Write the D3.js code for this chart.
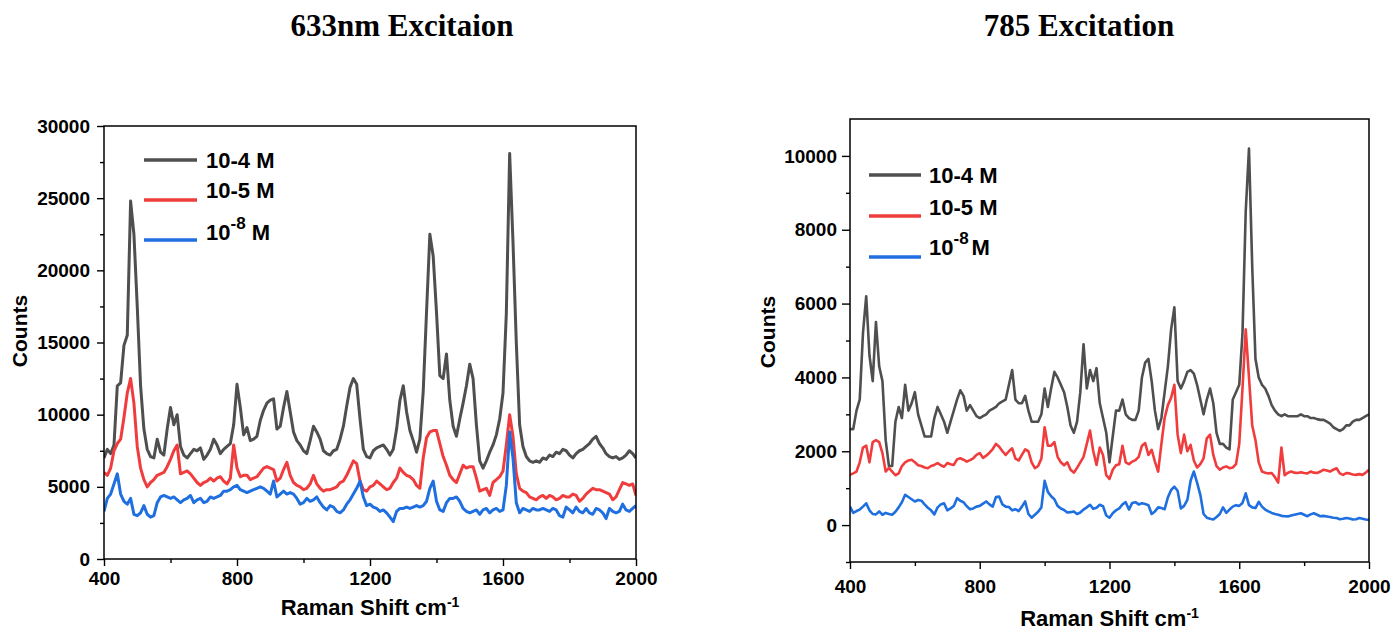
<!DOCTYPE html>
<html>
<head>
<meta charset="utf-8">
<script src="https://cdn.jsdelivr.net/npm/d3@7"></script>
<style>
  body { margin: 0; background: #fff; }
  svg text { font-family: "Liberation Sans", Arial, sans-serif; font-weight: bold; fill: #000; }
</style>
</head>
<body>
<svg id="chart" width="1395" height="631"></svg>
<script>
// Raman shift sampling grid (cm-1)
const shift = d3.range(400, 2001, 10);

const seriesNames = ["10-4 M", "10-5 M", "10-8 M"];
const seriesColors = ["#4f4f4f", "#f03c3c", "#1f6fe0"];

const xTicks = [400, 800, 1200, 1600, 2000];
const xMinorTicks = [600, 1000, 1400, 1800];
const yTicks633 = [0, 5000, 10000, 15000, 20000, 25000, 30000];
const yMinor633 = [2500, 7500, 12500, 17500, 22500, 27500];
const yTicks785 = [0, 2000, 4000, 6000, 8000, 10000];
const yMinor785 = [-1000, 1000, 3000, 5000, 7000, 9000];

// 633 nm excitation spectra
const bk633 = [
  7000, 7600, 7300, 7900, 12000, 12200, 14800, 15500, 24800, 22500,
  17500, 12000, 9000, 7600, 7100, 7000, 8300, 7400, 7200, 9000,
  10500, 9300, 10000, 7800, 7200, 7000, 7300, 7600, 7500, 7700,
  6900, 7200, 7600, 8300, 7900, 7300, 7600, 7800, 8000, 9300,
  12100, 10500, 8600, 9100, 8200, 8300, 8500, 9600, 10300, 10800,
  11000, 11100, 9000, 9200, 10500, 11600, 10200, 8800, 8200, 7900,
  7500, 7300, 8200, 9200, 8800, 8300, 7500, 7300, 7200, 7500,
  7600, 8300, 9200, 10600, 11900, 12500, 12100, 9700, 7600, 7100,
  7000, 7500, 7700, 7800, 7900, 7600, 7200, 7600, 9000, 11000,
  12000, 10200, 8900, 8200, 7400, 8300, 11600, 17100, 22500, 21000,
  17100, 12700, 12500, 14200, 11000, 9200, 8500, 9700, 10800, 12000,
  13500, 12500, 9300, 6800, 6300, 6800, 7400, 7900, 8600, 9700,
  11500, 17000, 28100, 22000, 15000, 9300, 7800, 7100, 6800, 6700,
  6800, 6700, 7000, 6900, 7200, 7100, 7400, 7300, 7600, 7500,
  7200, 7000, 7300, 7500, 7600, 7800, 8000, 8300, 8500, 8000,
  7700, 7300, 7100, 7000, 7100, 6900, 7000, 7200, 7500, 7300,
  7000
];
const rd633 = [
  6000, 5800, 6300, 7500, 8000, 8300, 9800, 11500, 12500, 10800,
  7800, 6300, 5500, 5000, 5300, 5500, 5800, 5900, 6000, 6400,
  6900, 7500, 7900, 5900, 6000, 6100, 5900, 5600, 5300, 5100,
  5300, 5400, 5600, 5400, 5600, 5700, 5400, 5200, 5600, 7900,
  6300, 5700, 5800, 5800, 5500, 5600, 5700, 6000, 6300, 6400,
  6300, 6200, 5400, 5600, 6200, 6700, 5800, 5300, 5100, 5000,
  4800, 4900, 5200, 5800, 5200, 4900, 4700, 4800, 4800, 4900,
  5000, 5300, 5400, 5800, 6300, 6800, 6600, 5400, 4800, 4700,
  5000, 5100, 5400, 5200, 5000, 4800, 4900, 5300, 5600, 6300,
  6000, 5800, 5700, 5500, 5100, 4900, 7000, 8400, 8800, 8900,
  8900, 8000, 7100, 6500, 5800, 5500, 5300, 5900, 6500, 6300,
  6400, 6400, 5600, 4700, 4800, 4900, 4400, 5300, 5500, 5700,
  6100, 7900, 10000, 8500, 5900, 4900, 4700, 4600, 4300, 4200,
  4100, 4300, 4400, 4200, 4400, 4300, 4100, 4200, 4400, 4300,
  4300, 4500, 4400, 4000, 4200, 4500, 4700, 4900, 4800, 4800,
  4700, 4600, 4500, 4100, 4300, 4800, 5300, 5200, 5100, 5200,
  4400
];
const bl633 = [
  3300, 4200, 4500, 5200, 5900, 4500, 4000, 3800, 4200, 3100,
  3000, 3200, 3700, 3100, 2900, 3000, 3900, 4300, 4400, 4300,
  4200, 4300, 4100, 3900, 4100, 4200, 4400, 3900, 4100, 4200,
  3900, 4000, 4300, 4200, 4300, 4400, 4700, 4700, 4800, 5000,
  5100, 4800, 4700, 4600, 4700, 4800, 4900, 5000, 4900, 4700,
  4500, 5400, 4300, 4500, 4700, 4500, 4600, 4500, 4200, 3800,
  3900, 4200, 4000, 4100, 4300, 3900, 3600, 3400, 3700, 3600,
  3300, 3200, 3400, 3800, 4100, 4500, 4900, 5400, 4300, 3700,
  3800, 3600, 3500, 3300, 3400, 3200, 2900, 2600, 3300, 3500,
  3500, 3600, 3500, 3600, 3700, 3600, 3700, 4000, 4900, 5400,
  4000, 3400, 3300, 3900, 4200, 4200, 4300, 4000, 3500, 3300,
  3200, 3300, 3400, 3100, 3400, 3500, 3200, 3400, 3500, 3300,
  3400, 5100, 8800, 7000, 3900, 3200, 3500, 3400, 3300, 3500,
  3400, 3400, 3500, 3400, 3300, 3500, 3400, 3000, 2900, 3600,
  3400, 3200, 3600, 3300, 3200, 3500, 3200, 3100, 3500, 3400,
  3200, 2800, 3500, 3300, 3200, 3300, 3800, 3400, 3300, 3500,
  3700
];

// 785 nm excitation spectra
const bk785 = [
  2600, 2600, 3100, 3400, 5200, 6200, 4600, 3900, 5500, 4300,
  3900, 2300, 1600, 1600, 2800, 3200, 2900, 3800, 3100, 3300,
  3600, 3000, 2700, 2400, 2400, 2400, 2900, 3200, 3000, 2800,
  2500, 2800, 3100, 3400, 3650, 3500, 3100, 3250, 3100, 2950,
  2900, 2950, 3000, 3100, 3150, 3200, 3300, 3350, 3400, 3800,
  4200, 3400, 3300, 3300, 3500, 3100, 2800, 2800, 2800, 3000,
  3700, 3200, 3700, 4150, 4000, 3800, 3600, 3200, 2700, 2500,
  2800, 3600, 4900, 3700, 4200, 3900, 4250, 3300, 2900, 2500,
  1700, 2400, 3100, 3100, 3400, 3000, 2900, 2850, 2850, 3100,
  4000, 4400, 4500, 3900, 3100, 2600, 2900, 3600, 4300, 5300,
  5900, 3900, 3700, 3900, 4150, 4200, 4100, 3800, 3400, 3000,
  3400, 3700, 3300, 2500, 2200, 2200, 2100, 2050, 3400, 3600,
  3800, 5200, 8500, 10200, 7000, 4500, 4000, 3800, 3700, 3500,
  3250, 3100, 3000, 2950, 3000, 2950, 2950, 2950, 2950, 3000,
  2950, 2950, 2900, 2900, 2870, 2850, 2850, 2800, 2750, 2650,
  2600, 2550, 2600, 2700, 2700, 2800, 2850, 2850, 2900, 2950,
  3000
];
const rd785 = [
  1360, 1400, 1450, 1700, 2100, 2150, 1700, 2250, 2300, 2250,
  1950, 1450, 1550, 1450, 1350, 1400, 1600, 1700, 1750, 1770,
  1700, 1620, 1600, 1560, 1540, 1600, 1630, 1680, 1620, 1580,
  1680, 1650, 1630, 1780, 1810, 1770, 1720, 1760, 1810, 1900,
  1950, 1820, 1880, 1960, 2060, 2200, 2120, 2000, 1900, 2000,
  2080, 1800, 1750, 1900, 2050, 2000, 1700, 1540, 1600, 1800,
  2650, 2150, 2150, 2250, 1850, 1700, 1620, 1700, 1500, 1420,
  1550, 1700, 1850, 2200, 2560, 2000, 1630, 2100, 1900, 1350,
  1250, 1500, 1620, 1650, 2150, 1700, 1650, 1720, 1760, 1850,
  2150, 2220, 1900, 2040, 1720, 1450, 2200, 2900, 3250, 3450,
  3800, 2450, 1950, 2450, 2000, 2170, 1750, 1560, 1650, 1810,
  2350, 2450, 1900, 1600, 1500, 1560, 1590, 1540, 1560, 1650,
  2200, 3700, 5300, 4000, 2700, 2300, 1700, 1450, 1420, 1400,
  1410, 1300, 1150, 2100, 1350, 1420, 1450, 1420, 1410, 1430,
  1410, 1400, 1450, 1420, 1410, 1450, 1500, 1480, 1450, 1500,
  1540, 1400, 1360, 1410, 1400, 1370, 1360, 1380, 1360, 1420,
  1500
];
const bl785 = [
  500, 330, 380, 420, 500, 590, 400, 300, 290, 370,
  280, 330, 300, 280, 360, 480, 620, 820, 760, 700,
  640, 680, 660, 560, 470, 400, 290, 480, 560, 590,
  400, 450, 520, 730, 660, 620, 510, 430, 450, 500,
  520, 580, 640, 560, 500, 760, 770, 560, 500, 490,
  400, 430, 380, 500, 640, 300, 200, 280, 360, 480,
  1200, 900, 780, 700, 520, 450, 410, 340, 350, 370,
  300, 340, 420, 480, 550, 440, 470, 550, 510, 260,
  200, 320, 400, 450, 560, 620, 420, 600, 620, 560,
  590, 570, 540, 300, 370, 480, 460, 430, 750, 950,
  1040, 930, 450, 520, 680, 1200, 1450, 1150, 820, 300,
  200, 170, 150, 220, 300, 480, 330, 420, 500, 540,
  520, 600, 860, 540, 480, 460, 630, 500, 420, 370,
  330, 300, 280, 250, 240, 235, 260, 280, 300, 320,
  280, 240, 290, 320, 280, 240, 250, 235, 220, 200,
  190, 160, 170, 190, 180, 150, 160, 190, 170, 150,
  140
];

const panels = [
  {
    title: "633nm Excitaion", titleX: 402,
    left: 104, right: 636, top: 126, bottom: 559,
    yDomain: [0, 30000], yTicks: yTicks633, yMinor: yMinor633,
    series: [bk633, rd633, bl633], lineWidth: 3,
    yTickSize: 7, yPad: 7, xPad: 6, xLabelY: 615, countsX: 20, countsY: 331,
    legendLine: [144, 197], legendLineY: [160, 200, 240],
    legendTextX: 206, legendTextY: [168, 198, 240], supGap: " M"
  },
  {
    title: "785 Excitation", titleX: 1079,
    left: 850, right: 1369, top: 119, bottom: 562,
    yDomain: [-1000, 11000], yTicks: yTicks785, yMinor: yMinor785,
    series: [bk785, rd785, bl785], lineWidth: 2.6,
    yTickSize: 8, yPad: 5, xPad: 11, xLabelY: 626, countsX: 768, countsY: 332,
    legendLine: [869, 921], legendLineY: [175, 216, 257],
    legendTextX: 929, legendTextY: [183, 215, 255], supGap: "M"
  }
];

const svg = d3.select("#chart");

panels.forEach((p, pi) => {
  const x = d3.scaleLinear().domain([400, 2000]).range([p.left, p.right]);
  const y = d3.scaleLinear().domain(p.yDomain).range([p.bottom, p.top]);
  const g = svg.append("g");

  // title
  g.append("text")
    .attr("x", p.titleX).attr("y", 36)
    .attr("text-anchor", "middle")
    .style("font-family", '"Liberation Serif", "Times New Roman", serif')
    .style("font-size", "31px")
    .text(p.title);

  // spectra, clipped to the plot frame
  const clipId = "clip" + pi;
  svg.append("clipPath").attr("id", clipId)
    .append("rect")
    .attr("x", p.left).attr("y", p.top)
    .attr("width", p.right - p.left).attr("height", p.bottom - p.top);

  const line = d3.line()
    .x((d, i) => x(shift[i]))
    .y(d => y(d));

  g.append("g").attr("clip-path", `url(#${clipId})`)
    .selectAll("path")
    .data(p.series)
    .join("path")
    .attr("d", line)
    .attr("fill", "none")
    .attr("stroke", (d, i) => seriesColors[i])
    .attr("stroke-width", p.lineWidth)
    .attr("stroke-linejoin", "round");

  // x axis (major + minor)
  const xAxis = g.append("g").attr("transform", `translate(0,${p.bottom})`)
    .call(d3.axisBottom(x).tickValues(xTicks).tickSize(7).tickPadding(p.xPad).tickFormat(d3.format("d")));
  g.append("g").attr("transform", `translate(0,${p.bottom})`)
    .call(d3.axisBottom(x).tickValues(xMinorTicks).tickSize(4).tickFormat(""));

  // y axis (major + minor)
  const yAxis = g.append("g").attr("transform", `translate(${p.left},0)`)
    .call(d3.axisLeft(y).tickValues(p.yTicks).tickSize(p.yTickSize).tickPadding(p.yPad).tickFormat(d3.format("d")));
  g.append("g").attr("transform", `translate(${p.left},0)`)
    .call(d3.axisLeft(y).tickValues(p.yMinor).tickSize(4).tickFormat(""));

  g.selectAll(".domain").remove();
  g.selectAll(".tick line").attr("stroke", "#000").attr("stroke-width", 1.4);
  [xAxis, yAxis].forEach(a => a.selectAll("text")
    .style("font-family", '"Liberation Sans", Arial, sans-serif')
    .style("font-weight", "bold")
    .style("font-size", "19px")
    .attr("fill", "#000"));

  // frame
  g.append("rect")
    .attr("x", p.left).attr("y", p.top)
    .attr("width", p.right - p.left).attr("height", p.bottom - p.top)
    .attr("fill", "none").attr("stroke", "#000").attr("stroke-width", 1.5);

  // axis titles
  g.append("text")
    .attr("transform", `translate(${p.countsX},${p.countsY}) rotate(-90)`)
    .attr("text-anchor", "middle").attr("dy", "0.35em")
    .style("font-size", "21px")
    .text("Counts");

  const xl = g.append("text")
    .attr("x", (p.left + p.right) / 2).attr("y", p.xLabelY)
    .attr("text-anchor", "middle")
    .style("font-size", "22px");
  xl.append("tspan").text("Raman Shift cm");
  xl.append("tspan").attr("dy", -8).style("font-size", "14px").text("-1");

  // legend
  const lg = g.append("g");
  seriesNames.forEach((name, i) => {
    lg.append("line")
      .attr("x1", p.legendLine[0]).attr("x2", p.legendLine[1])
      .attr("y1", p.legendLineY[i]).attr("y2", p.legendLineY[i])
      .attr("stroke", seriesColors[i]).attr("stroke-width", 3.5);
    const t = lg.append("text")
      .attr("x", p.legendTextX).attr("y", p.legendTextY[i])
      .style("font-size", "22px");
    if (i < 2) {
      t.text(name);
    } else {
      const base = name.slice(0, 2);
      const exp = name.slice(2).split(" ")[0];
      t.append("tspan").text(base);
      t.append("tspan").attr("dy", -11).style("font-size", "17px").text(exp);
      t.append("tspan").attr("dy", 11).attr("dx", p.supGap === "M" ? 3 : 0)
        .text(p.supGap);
    }
  });
});
</script>
</body>
</html>
